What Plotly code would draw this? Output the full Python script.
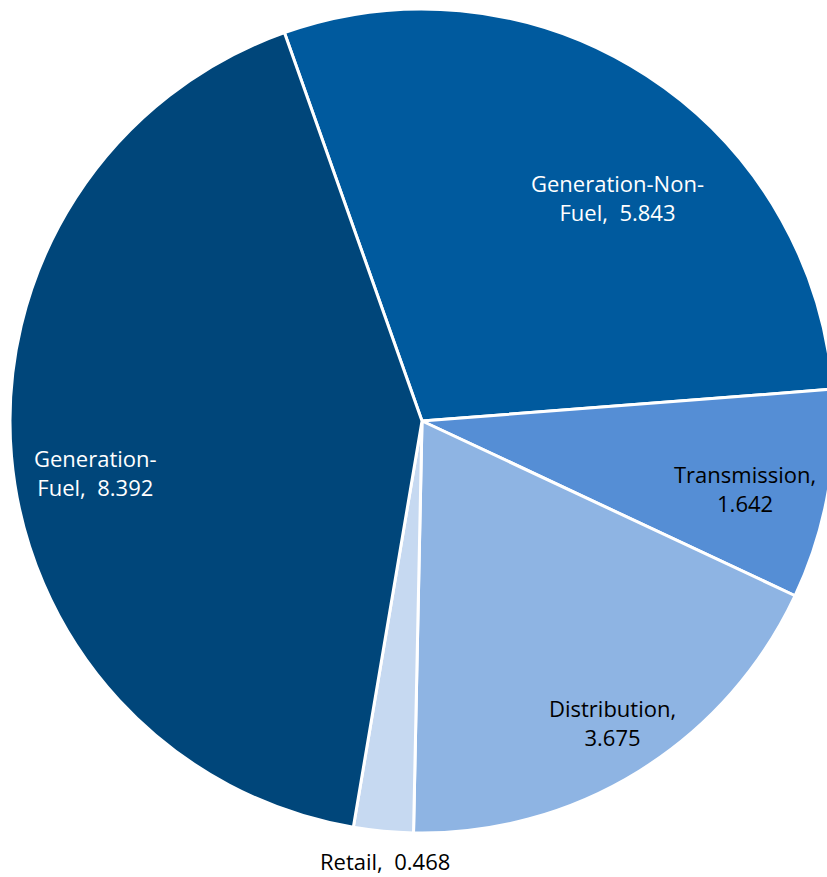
import plotly.graph_objects as go

labels = ["Generation-Non-Fuel", "Transmission", "Distribution", "Retail", "Generation-Fuel"]
values = [5.843, 1.642, 3.675, 0.468, 8.392]
label_text = ["Generation-Non-<br>Fuel,  5.843", "Transmission,<br>1.642", "Distribution,<br>3.675",
              "Retail,  0.468", "Generation-<br>Fuel,  8.392"]
colors = ["#005A9E", "#558ED5", "#8EB4E3", "#C6D9F1", "#00467A"]
text_colors = ["white", "black", "black", "black", "white"]

W, H = 840, 877
# label centres in page pixels
label_px = [(617, 198), (745, 488), (612, 722), (385, 861), (95, 472)]

fig = go.Figure(go.Pie(
    labels=labels, values=values, sort=False, direction="clockwise", rotation=-19.5,
    marker=dict(colors=colors, line=dict(color="white", width=3)),
    textinfo="none", hoverinfo="label+value",
    domain=dict(x=[10 / W, 834 / W], y=[1 - 833 / H, 1 - 9 / H]),
    showlegend=False,
))

for t, c, (px, py) in zip(label_text, text_colors, label_px):
    fig.add_annotation(x=px / W, y=1 - py / H, xref="paper", yref="paper", text=t, showarrow=False,
                       align="center", xanchor="center", yanchor="middle",
                       font=dict(family="Open Sans, Lato, sans-serif", size=22, color=c))

fig.update_layout(width=W, height=H, margin=dict(l=0, r=0, t=0, b=0),
                  paper_bgcolor="white", plot_bgcolor="white")
fig.write_html("out.html", config={"displayModeBar": False},
               post_script="document.body.style.margin='0';document.body.style.overflow='hidden';")
